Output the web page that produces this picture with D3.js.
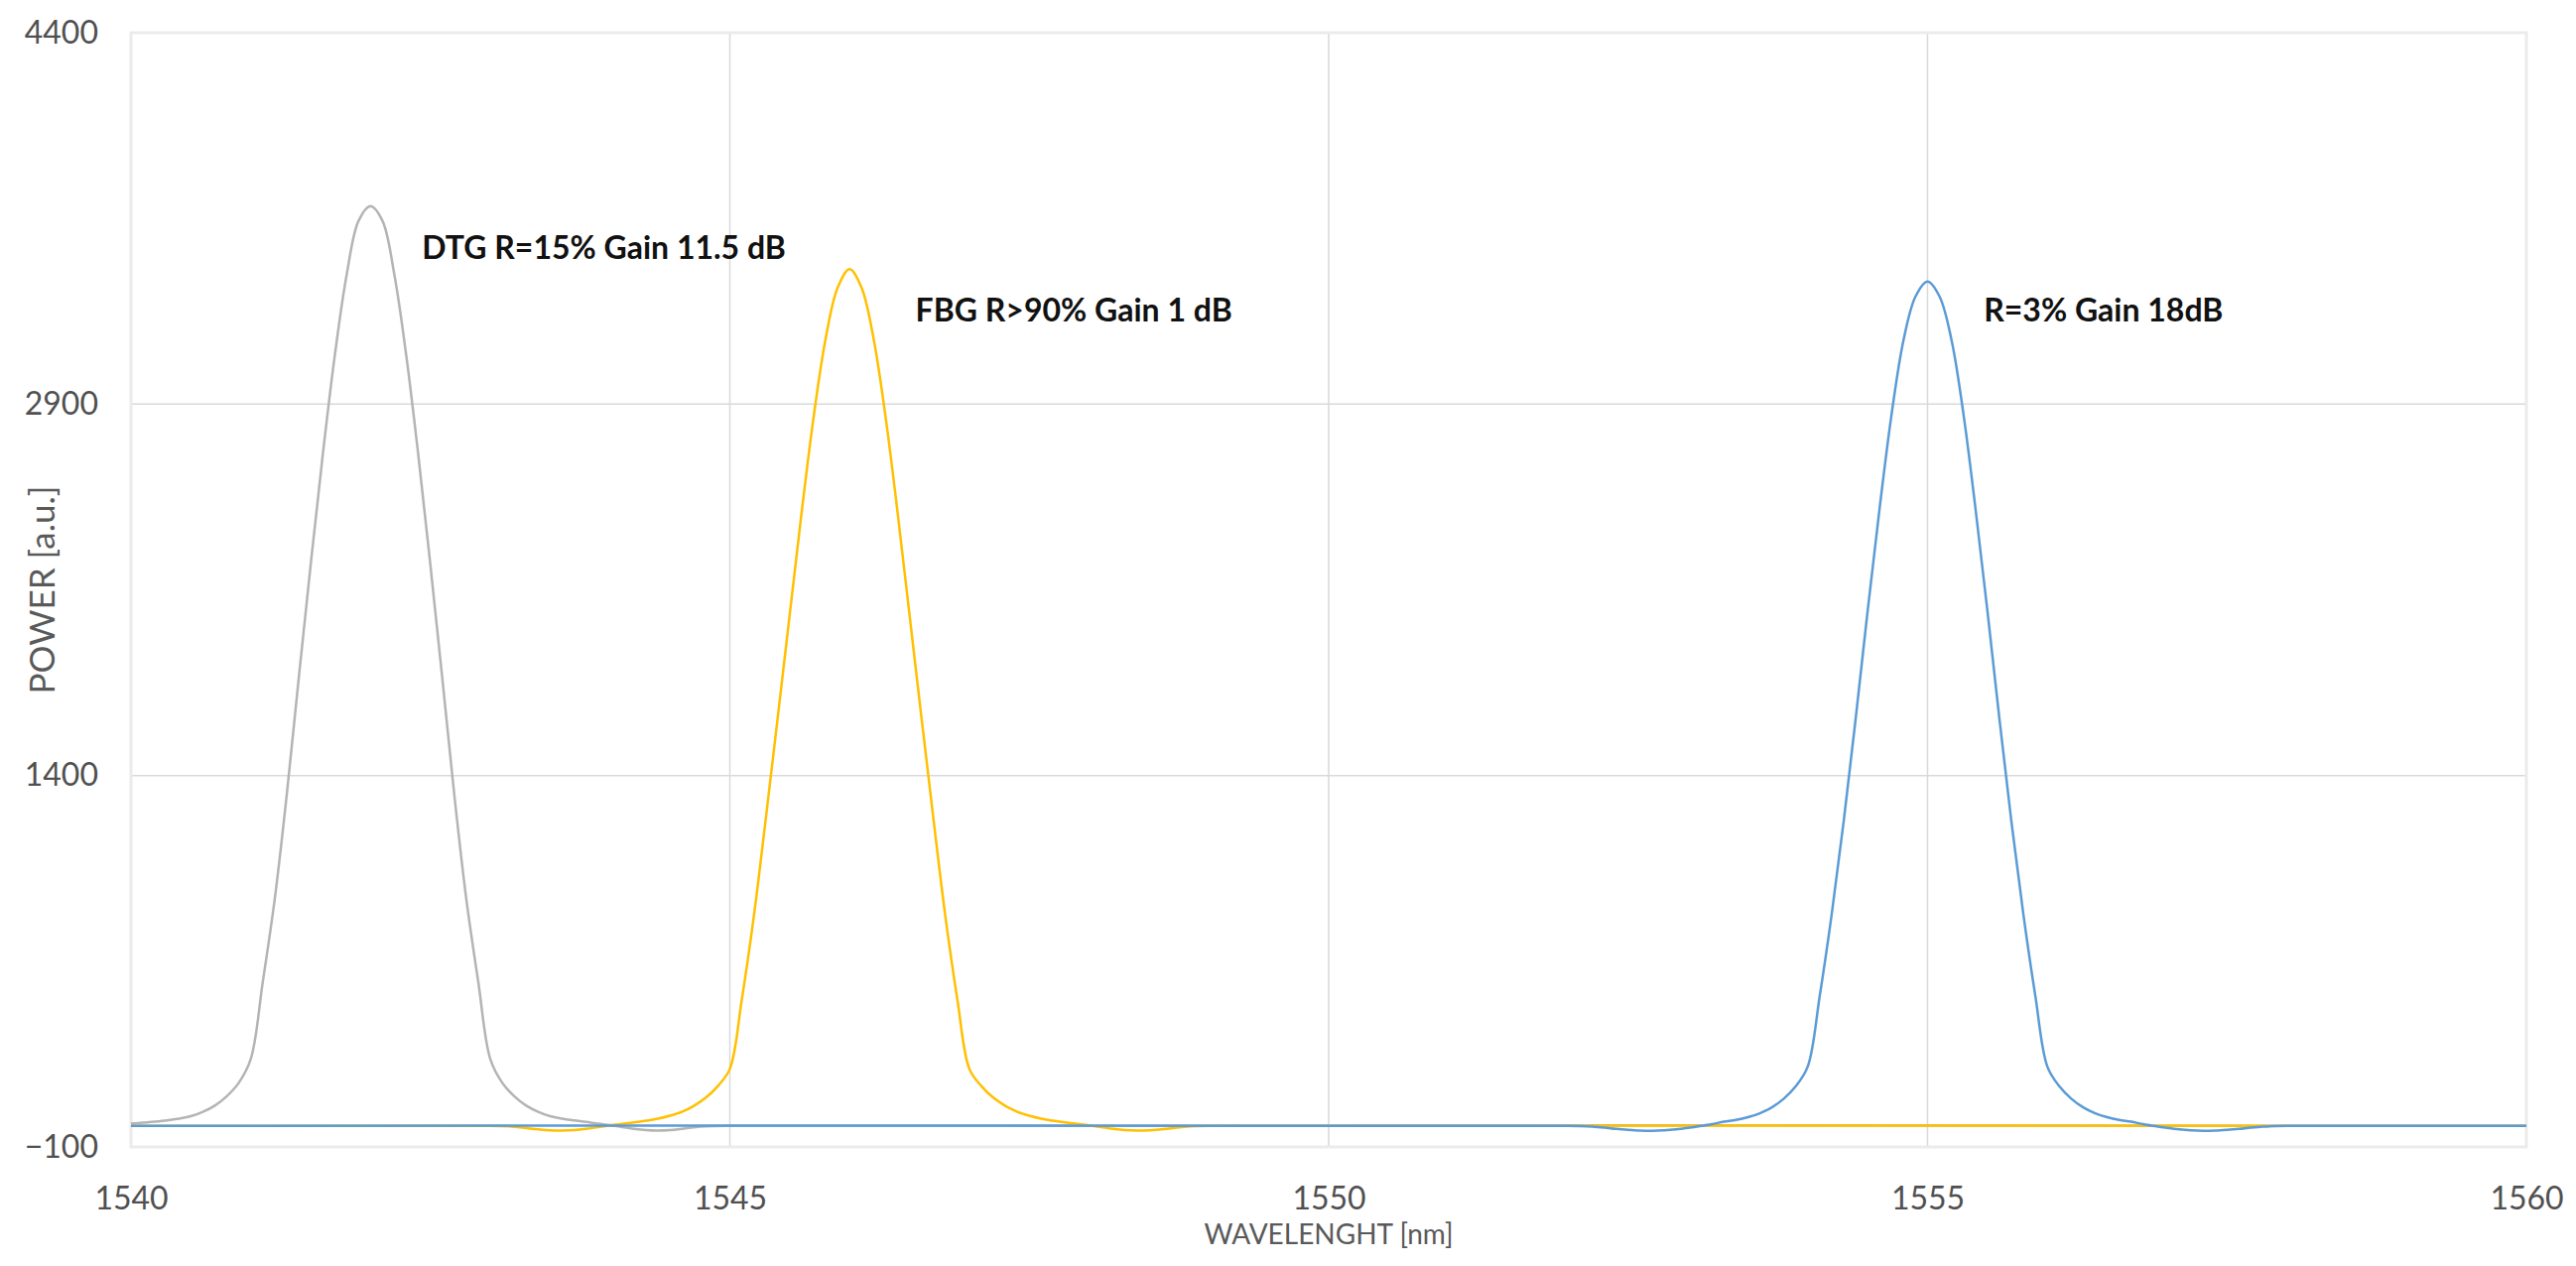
<!DOCTYPE html>
<html>
<head>
<meta charset="utf-8">
<script src="https://cdn.jsdelivr.net/npm/d3@7"></script>
<style>
    body { margin: 0; background: #fff; }
    .tick-label { font-family: Lato, 'Open Sans', sans-serif; font-size: 32px; fill: #505050; }
    .axis-title { font-family: Lato, 'Open Sans', sans-serif; font-size: 28px; fill: #595959; }
    .note { font-family: Lato, 'Open Sans', sans-serif; font-size: 32px; font-weight: bold; fill: #111; }
</style>
</head>
<body>
<script>
'use strict';

const width = 2596, height = 1276;
const margin = {top: 33, right: 50, bottom: 120, left: 132};

const x_ticks = [1540, 1545, 1550, 1555, 1560];
const y_ticks = [-100, 1400, 2900, 4400];

// DTG R=15% (grey)
const dtg_wavelength = [1540.0, 1540.1, 1540.2, 1540.3, 1540.4, 1540.5, 1540.6, 1540.7, 1540.8, 1540.9,
    1541.0, 1541.1, 1541.2, 1541.3, 1541.4, 1541.5, 1541.6, 1541.7, 1541.8, 1541.9,
    1542.0, 1542.1, 1542.2, 1542.3, 1542.4, 1542.5, 1542.6, 1542.7, 1542.8, 1542.9,
    1543.0, 1543.1, 1543.2, 1543.3, 1543.4, 1543.5, 1543.6, 1543.7, 1543.8, 1543.9,
    1544.0, 1544.1, 1544.2, 1544.3, 1544.4, 1544.5, 1544.6, 1544.7, 1544.8, 1545.0, 1560.0];
const dtg_power = [-6, -2, 2, 7, 14, 24, 42, 67, 105, 159,
    255, 565, 900, 1320, 1790, 2250, 2690, 3090, 3420, 3640,
    3700, 3640, 3420, 3090, 2690, 2250, 1790, 1320, 900, 565,
    255, 159, 105, 67, 42, 24, 14, 7, 1, -6,
    -12, -20, -27, -32, -34, -32, -27, -21, -17, -15, -15];

// FBG R>90% (yellow)
const fbg_wavelength = [1540.0, 1543.0, 1543.1, 1543.2, 1543.3, 1543.4, 1543.5, 1543.6, 1543.7, 1543.8, 1543.9,
    1544.0, 1544.1, 1544.2, 1544.3, 1544.4, 1544.5, 1544.6, 1544.7, 1544.8, 1544.9,
    1545.0, 1545.1, 1545.2, 1545.3, 1545.4, 1545.5, 1545.6, 1545.7, 1545.8, 1545.9,
    1546.0, 1546.1, 1546.2, 1546.3, 1546.4, 1546.5, 1546.6, 1546.7, 1546.8, 1546.9,
    1547.0, 1547.1, 1547.2, 1547.3, 1547.4, 1547.5, 1547.6, 1547.7, 1547.8, 1547.9,
    1548.0, 1548.1, 1548.2, 1548.3, 1548.4, 1548.5, 1548.6, 1548.7, 1548.8, 1548.9, 1549.0, 1560.0];
const fbg_power = [-15, -15, -16, -19, -24, -29, -33, -34, -32, -27, -20,
    -13, -7, -1, 6, 14, 26, 42, 66, 99, 146,
    215, 495, 830, 1225, 1635, 2050, 2465, 2850, 3165, 3370,
    3445, 3370, 3165, 2850, 2465, 2050, 1635, 1225, 830, 495,
    215, 146, 99, 66, 42, 26, 14, 6, -1, -7,
    -13, -20, -27, -32, -34, -33, -29, -24, -19, -16, -15, -15];

// R=3% (blue)
const r3_wavelength = [1540.0, 1552.0, 1552.1, 1552.2, 1552.3, 1552.4, 1552.5, 1552.6, 1552.7, 1552.8, 1552.9,
    1553.0, 1553.1, 1553.2, 1553.3, 1553.4, 1553.5, 1553.6, 1553.7, 1553.8, 1553.9,
    1554.0, 1554.1, 1554.2, 1554.3, 1554.4, 1554.5, 1554.6, 1554.7, 1554.8, 1554.9,
    1555.0, 1555.1, 1555.2, 1555.3, 1555.4, 1555.5, 1555.6, 1555.7, 1555.8, 1555.9,
    1556.0, 1556.1, 1556.2, 1556.3, 1556.4, 1556.5, 1556.6, 1556.7, 1556.8, 1556.9,
    1557.0, 1557.1, 1557.2, 1557.3, 1557.4, 1557.5, 1557.6, 1557.7, 1557.8, 1557.9, 1558.0, 1560.0];
const r3_power = [-15, -15, -16, -18, -22, -27, -31, -34, -35, -33, -29,
    -23, -16, -8, 2, 9, 20, 36, 60, 95, 145,
    225, 510, 840, 1215, 1630, 2065, 2480, 2860, 3160, 3335,
    3395, 3335, 3160, 2860, 2480, 2065, 1630, 1215, 840, 510,
    225, 145, 95, 60, 36, 20, 9, 2, -8, -16,
    -23, -29, -33, -35, -34, -31, -27, -22, -18, -16, -15, -15];

const series = [
    {name: 'DTG', wl: dtg_wavelength, power: dtg_power, color: '#b4b4b4'},
    {name: 'FBG', wl: fbg_wavelength, power: fbg_power, color: '#ffc000'},
    {name: 'R3', wl: r3_wavelength, power: r3_power, color: '#5b9bd5'}
];

const notes = [
    {text: 'DTG R=15% Gain 11.5 dB', x: 1542.43, y: 3485},
    {text: 'FBG R>90% Gain 1 dB', x: 1546.55, y: 3235},
    {text: 'R=3% Gain 18dB', x: 1555.47, y: 3235}
];

const content_width = width - margin.left - margin.right;
const content_height = height - margin.top - margin.bottom;

const xScale = d3.scaleLinear().domain([1540, 1560]).range([0, content_width]);
const yScale = d3.scaleLinear().domain([-100, 4400]).range([content_height, 0]);

const svg = d3.select('body').append('svg')
    .attr('width', width)
    .attr('height', height)
    .style('background', '#fff');

const content = svg.append('g')
    .attr('transform', `translate(${margin.left},${margin.top})`);

// grid
content.append('g')
    .selectAll('line')
    .data(y_ticks)
    .join('line')
    .attr('x1', 0).attr('x2', content_width)
    .attr('y1', d => yScale(d)).attr('y2', d => yScale(d))
    .attr('stroke', '#d9d9d9')
    .attr('stroke-width', 1.5);
content.append('g')
    .selectAll('line')
    .data(x_ticks)
    .join('line')
    .attr('y1', 0).attr('y2', content_height)
    .attr('x1', d => xScale(d)).attr('x2', d => xScale(d))
    .attr('stroke', '#d9d9d9')
    .attr('stroke-width', 1.5);
content.append('rect')
    .attr('width', content_width)
    .attr('height', content_height)
    .attr('fill', 'none')
    .attr('stroke', '#ebebeb')
    .attr('stroke-width', 3);

// axes (labels only)
const xAxis = d3.axisBottom(xScale).tickValues(x_ticks).tickSize(0).tickPadding(40).tickFormat(d3.format('d'));
const yAxis = d3.axisLeft(yScale).tickValues(y_ticks).tickSize(0).tickPadding(33).tickFormat(d3.format('d'));

content.append('g')
    .attr('transform', `translate(0,${content_height})`)
    .call(xAxis)
    .call(g => g.select('.domain').remove())
    .selectAll('text')
    .attr('class', 'tick-label')
    .attr('font-family', null).attr('font-size', null).attr('fill', null);
content.append('g')
    .call(yAxis)
    .call(g => g.select('.domain').remove())
    .selectAll('text')
    .attr('class', 'tick-label')
    .attr('font-family', null).attr('font-size', null).attr('fill', null);

svg.append('text')
    .attr('class', 'axis-title')
    .attr('x', margin.left + content_width / 2)
    .attr('y', 1254)
    .attr('text-anchor', 'middle')
    .text('WAVELENGHT [nm]');
svg.append('text')
    .attr('class', 'axis-title')
    .style('font-size', '35px')
    .attr('transform', `translate(55,${margin.top + content_height / 2}) rotate(-90)`)
    .attr('text-anchor', 'middle')
    .text('POWER [a.u.]');

// spectra
const line = d3.line()
    .x(d => xScale(d[0]))
    .y(d => yScale(d[1]))
    .curve(d3.curveCatmullRom.alpha(0.5));

content.selectAll('.spectrum')
    .data(series)
    .join('path')
    .attr('class', 'spectrum')
    .attr('fill', 'none')
    .attr('stroke', d => d.color)
    .attr('stroke-width', 2.5)
    .attr('d', d => line(d.wl.map((w, i) => [w, d.power[i]])));

content.selectAll('.note')
    .data(notes)
    .join('text')
    .attr('class', 'note')
    .attr('x', d => xScale(d.x))
    .attr('y', d => yScale(d.y))
    .text(d => d.text);
</script>
</body>
</html>
